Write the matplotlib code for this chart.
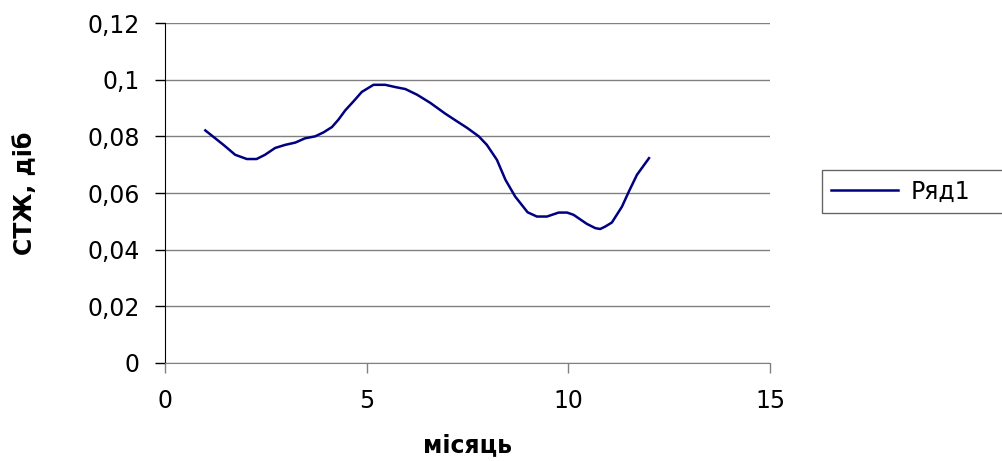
import matplotlib.pyplot as plt
from matplotlib.ticker import FuncFormatter

# month (fractional) and value
month = [1.0, 1.45, 1.74, 2.03, 2.27, 2.48, 2.73, 2.98, 3.23, 3.47, 3.72, 3.93,
         4.14, 4.30, 4.47, 4.67, 4.88, 5.17, 5.46, 5.71, 5.96, 6.25, 6.58, 6.95,
         7.24, 7.49, 7.78, 7.98, 8.23, 8.44, 8.68, 8.99, 9.22, 9.47, 9.76, 9.97,
         10.13, 10.46, 10.67, 10.79, 10.92, 11.08, 11.33, 11.50, 11.70, 12.0]
stzh = [0.0821, 0.0770, 0.0735, 0.0720, 0.0720, 0.0735, 0.0759, 0.0770, 0.0778,
        0.0793, 0.0800, 0.0814, 0.0833, 0.0859, 0.0892, 0.0923, 0.0957, 0.0982,
        0.0982, 0.0974, 0.0967, 0.0947, 0.0918, 0.0880, 0.0853, 0.0830, 0.0800,
        0.0770, 0.0717, 0.0647, 0.0588, 0.0532, 0.0517, 0.0517, 0.0531, 0.0531,
        0.0523, 0.0491, 0.0476, 0.0473, 0.0482, 0.0496, 0.0552, 0.0605, 0.0664,
        0.0723]
series_name = 'Ряд1'
xticks = [0, 5, 10, 15]
yticks = [0, 0.02, 0.04, 0.06, 0.08, 0.1, 0.12]

plt.rcParams['font.family'] = ['DejaVu Sans']

fig = plt.figure(figsize=(10.03, 4.61), dpi=100)
ax = fig.add_axes([0.1645, 0.2126, 0.6032, 0.7374])

ax.plot(month, stzh, color='#000080', lw=1.8, label=series_name)

ax.set_xlim(0, 15)
ax.set_ylim(0, 0.12)
ax.set_xticks(xticks)
ax.set_yticks(yticks)
ax.yaxis.set_major_formatter(FuncFormatter(lambda v, p: ('%g' % round(v, 3)).replace('.', ',')))

ax.grid(True, axis='y', color='#808080', lw=1.0)
ax.set_axisbelow(True)
for s in ['top', 'right']:
    ax.spines[s].set_visible(False)
ax.spines['left'].set_color('black')
ax.spines['bottom'].set_color('#808080')

ax.tick_params(axis='both', direction='out', length=7, width=1, labelsize=17)
ax.tick_params(axis='y', pad=11, color='black')
ax.tick_params(axis='x', pad=12, color='#808080')
ax.xaxis.get_major_ticks()[0].tick1line.set_color('black')

ax.set_ylabel('СТЖ, діб', fontsize=17, fontweight='bold', labelpad=36)
ax.set_xlabel('місяць', fontsize=17, fontweight='bold', labelpad=14)

# legend box runs off the right edge of the figure
leg = ax.legend(loc='center left', bbox_to_anchor=(0.8195, 0.5396, 0.21, 0.09),
                bbox_transform=fig.transFigure, mode='expand',
                fontsize=17, frameon=True, fancybox=False, edgecolor='#404040',
                handlelength=2.8, handletextpad=0.55, borderpad=0.4, borderaxespad=0)
leg.get_frame().set_linewidth(1.0)

fig.savefig('out.png', dpi=100)
